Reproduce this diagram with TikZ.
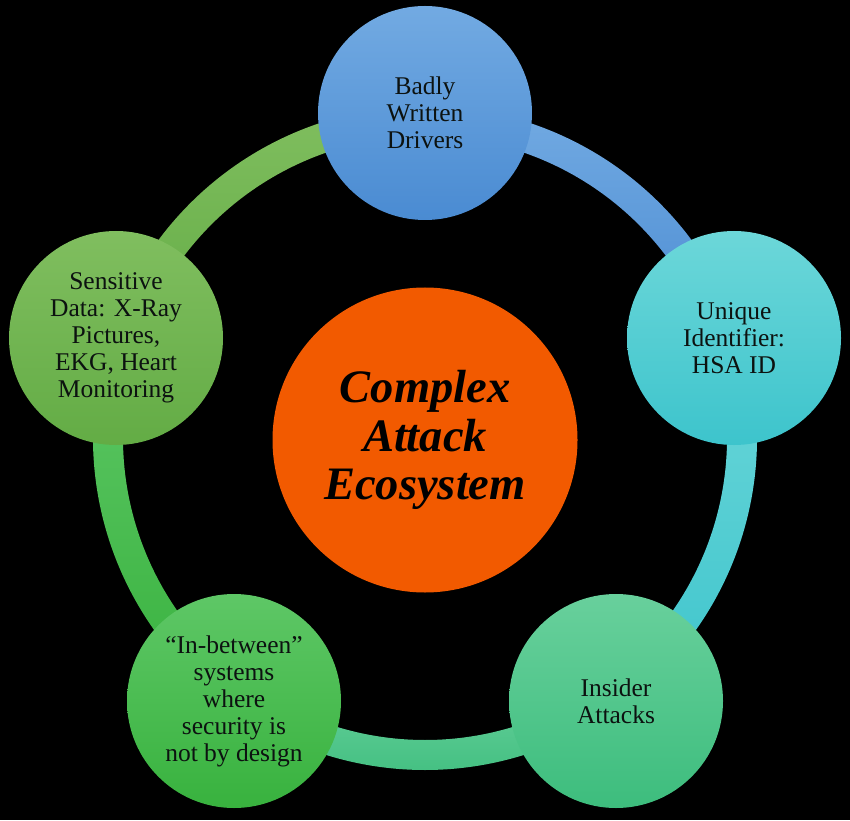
\documentclass[tikz,border=0pt]{standalone}
\usepackage{fontspec}
\setmainfont{Liberation Serif}
\definecolor{blueT}{HTML}{72AAE2}
\definecolor{blueB}{HTML}{4A8BD2}
\definecolor{cyanT}{HTML}{6CD7D9}
\definecolor{cyanB}{HTML}{3DC4CC}
\definecolor{tealT}{HTML}{68D09C}
\definecolor{tealB}{HTML}{3DBD7D}
\definecolor{greenT}{HTML}{5EC766}
\definecolor{greenB}{HTML}{38B23E}
\definecolor{lgreenT}{HTML}{80BE5F}
\definecolor{lgreenB}{HTML}{63AC45}
\definecolor{orangeC}{HTML}{F25A00}
\definecolor{txt}{HTML}{0C1210}
\tikzset{
  x=1pt, y=1pt,
  item/.style={circle, minimum size=214pt, inner sep=0pt, align=center,
    text=txt, font=\fontsize{25.5}{27}\selectfont},
  hub/.style={circle, minimum size=305pt, inner sep=0pt, align=center,
    fill=orangeC, text=black, font=\fontsize{46.5}{48.5}\selectfont\bfseries\itshape},
}
\newcommand{\ringseg}[4]{%
  \shade[top color=#3, bottom color=#4, shift={(425,382)}]
    (#1:332) arc[start angle=#1, end angle=#2, radius=332]
    -- (#2:302) arc[start angle=#2, end angle=#1, radius=302] -- cycle;}
\begin{document}
\begin{tikzpicture}
\fill[black] (0,0) rectangle (850,820);
\useasboundingbox (0,0) rectangle (850,820);
% ring segments
\ringseg{90}{18}{blueT}{blueB}
\ringseg{18}{-54}{cyanT}{cyanB}
\ringseg{-54}{-126}{tealT}{tealB}
\ringseg{-126}{-198}{greenT}{greenB}
\ringseg{162}{90}{lgreenT}{lgreenB}
% center
\node[hub] (hub) at (425,380) {Complex\\Attack\\Ecosystem};
% outer circles
\node[item, top color=blueT, bottom color=blueB] (top) at (425,707) {Badly\\Written\\Drivers};
\node[item, top color=cyanT, bottom color=cyanB] (right) at (734,482) {Unique\\Identifier:\\HSA ID};
\node[item, top color=tealT, bottom color=tealB] (br) at (616,119) {Insider\\Attacks};
\node[item, top color=greenT, bottom color=greenB] (bl) at (234,119) {``In-between''\\systems\\where\\security is\\not by design};
\node[item, top color=lgreenT, bottom color=lgreenB] (left) at (116,482) {Sensitive\\Data: X-Ray\\Pictures,\\EKG, Heart\\Monitoring};
\end{tikzpicture}
\end{document}
